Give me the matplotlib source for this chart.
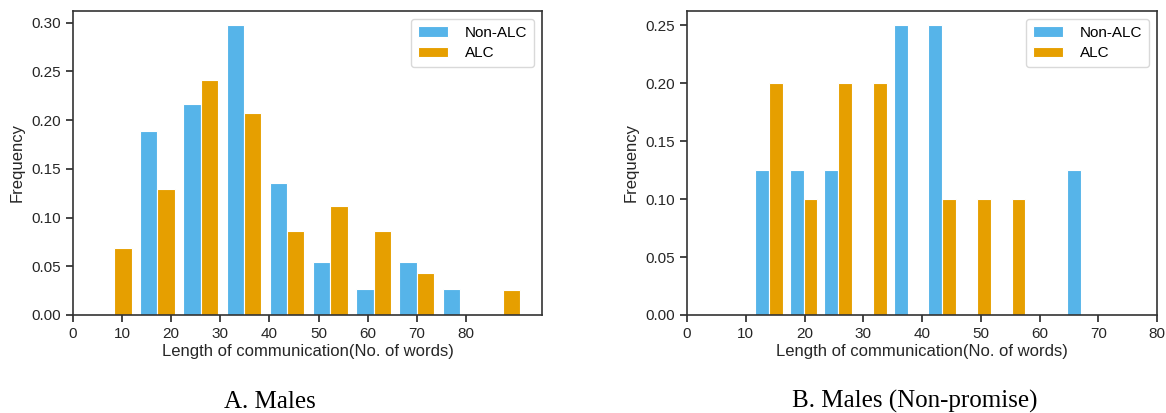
import numpy as np
import matplotlib
matplotlib.use("Agg")
import matplotlib.pyplot as plt

plt.rcParams['font.family'] = ['Liberation Sans', 'DejaVu Sans']

# Data: relative frequencies per bin
labels = ["Non-ALC", "ALC"]
colors = ["#56B4E9", "#E69F00"]

# A. Males - 10 bins from 4 to 92 words
bins_a = np.linspace(4, 92, 11)
nonalc_a = [0.0, 0.189, 0.216, 0.297, 0.135, 0.054, 0.027, 0.054, 0.027, 0.0]
alc_a = [0.069, 0.129, 0.241, 0.207, 0.086, 0.112, 0.086, 0.043, 0.0, 0.026]

# B. Males (Non-promise) - 10 bins from 11 to 70 words
bins_b = np.linspace(11, 70, 11)
nonalc_b = [0.125, 0.125, 0.125, 0.0, 0.25, 0.25, 0.0, 0.0, 0.0, 0.125]
alc_b = [0.2, 0.1, 0.2, 0.2, 0.0, 0.1, 0.1, 0.1, 0.0, 0.0]

xticks_a = [0, 10, 20, 30, 40, 50, 60, 70, 80]
xticks_b = [0, 10, 20, 30, 40, 50, 60, 70, 80]
yticks_a = [0, 0.05, 0.10, 0.15, 0.20, 0.25, 0.30]
yticks_b = [0, 0.05, 0.10, 0.15, 0.20, 0.25]

ink = "#262626"


def draw(ax, bins, series, xticks, yticks, xlim):
    lefts = bins[:-1]
    bw = bins[1] - bins[0]
    for i, (vals, lab, col) in enumerate(zip(series, labels, colors)):
        ax.bar(lefts + bw * (0.1 + 0.4 * i), vals, width=0.4 * bw, align='edge',
               color=col, edgecolor='white', linewidth=0.8, label=lab)
    ax.set_xticks(xticks)
    ax.set_yticks(yticks)
    ax.yaxis.set_major_formatter(matplotlib.ticker.FormatStrFormatter('%.2f'))
    ax.set_xlim(*xlim)
    ax.set_ylabel("Frequency", fontsize=12, color=ink, labelpad=5)
    ax.set_xlabel("Length of communication(No. of words)", fontsize=12,
                  color=ink, labelpad=2.5)
    ax.tick_params(direction='out', length=5, width=1.2, colors=ink,
                   labelsize=11)
    for s in ax.spines.values():
        s.set_linewidth(1.2)
        s.set_color("#333333")
    leg = ax.legend(loc='upper right', fontsize=11, frameon=True, fancybox=True,
                    handlelength=2.0, borderpad=0.45, labelspacing=0.45,
                    handletextpad=1.1)
    leg.get_frame().set_edgecolor('#d0d0d0')


fig = plt.figure(figsize=(11.66, 4.13), dpi=100)
W, H = 1166, 413
ax1 = fig.add_axes([73 / W, 1 - 315 / H, (542 - 73) / W, (315 - 11) / H])
ax2 = fig.add_axes([687 / W, 1 - 315 / H, (1157 - 687) / W, (315 - 11) / H])

draw(ax1, bins_a, [nonalc_a, alc_a], xticks_a, yticks_a, (0, 95.5))
draw(ax2, bins_b, [nonalc_b, alc_b], xticks_b, yticks_b, (0, 80))

fig.text(270 / W, 1 - 408 / H, "A. Males", family='Liberation Serif',
         fontsize=18, ha='center', va='baseline')
fig.text(915 / W, 1 - 408 / H, "B. Males (Non-promise)",
         family='Liberation Serif', fontsize=18, ha='center', va='baseline')

fig.savefig("out.png", dpi=100)
